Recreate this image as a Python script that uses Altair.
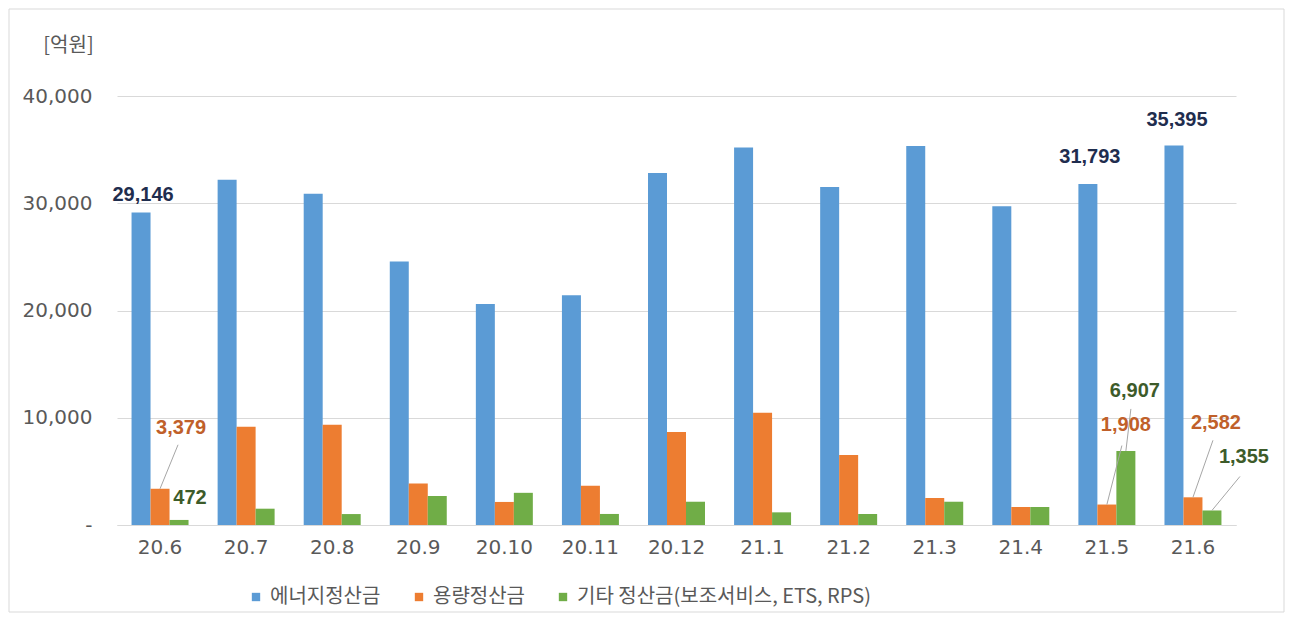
import altair as alt
import pandas as pd

# ---------------- data ----------------
months = ["20.6", "20.7", "20.8", "20.9", "20.10", "20.11", "20.12",
          "21.1", "21.2", "21.3", "21.4", "21.5", "21.6"]
series_names = ["에너지정산금", "용량정산금", "기타 정산금(보조서비스, ETS, RPS)"]
energy = [29146, 32200, 30880, 24580, 20600, 21420, 32830, 35190, 31520, 35340, 29720, 31793, 35395]
capacity = [3379, 9150, 9340, 3880, 2150, 3650, 8660, 10470, 6520, 2520, 1680, 1908, 2582]
other = [472, 1520, 1020, 2700, 3000, 1030, 2170, 1180, 1025, 2170, 1680, 6907, 1355]
y_ticks = [0, 10000, 20000, 30000, 40000]

# which bars carry a value label: (month, series index)
annotated = [("20.6", 0), ("21.5", 0), ("21.6", 0),
             ("20.6", 1), ("20.6", 2),
             ("21.5", 1), ("21.5", 2),
             ("21.6", 1), ("21.6", 2)]

# ---------------- style / layout ----------------
bar_colors = ["#5B9BD5", "#ED7D31", "#70AD47"]
label_colors = ["#1F2D4E", "#C0602A", "#3D5B2A"]
W, H = 1119, 429
PAD_INNER = 0.338
Y_MAX = 40000
# label centre offset from bar-top centre in px, and leader-line end (or None)
placement = {
    ("20.6", 0): (2, -17, None),
    ("21.5", 0): (2, -27, None),
    ("21.6", 0): (3, -25, None),
    ("20.6", 1): (21, -61, (18, -44)),
    ("20.6", 2): (11, -22, None),
    ("21.5", 1): (19, -80, (15, -59)),
    ("21.5", 2): (9, -60, (5, -42)),
    ("21.6", 1): (23, -74, (20, -57)),
    ("21.6", 2): (32, -53, (28, -34)),
}

values = [energy, capacity, other]
rows = []
for k, s in enumerate(series_names):
    for i, m in enumerate(months):
        rows.append({"month": m, "series": s, "value": values[k][i]})
bars_df = pd.DataFrame(rows)

ux = 13 / W          # x units per px in the annotation layer
uy = Y_MAX / H       # y units per px
text_rows, rule_rows = [], []
for (m, k) in annotated:
    i = months.index(m)
    v = values[k][i]
    xb = i + 0.5 + (k - 1) * (1 - PAD_INNER) / 3
    dx, dy, lead = placement[(m, k)]
    text_rows.append({"xt": xb + dx * ux, "yt": v - dy * uy,
                      "label": f"{v:,}", "series": series_names[k]})
    if lead is not None:
        rule_rows.append({"xb": xb, "yb": v,
                          "xe": xb + lead[0] * ux, "ye": v - lead[1] * uy})
text_df = pd.DataFrame(text_rows)
rule_df = pd.DataFrame(rule_rows)

GRAY = "#595959"

bars = alt.Chart(bars_df).mark_bar().encode(
    x=alt.X("month:N", sort=months,
            scale=alt.Scale(paddingInner=PAD_INNER, paddingOuter=PAD_INNER / 2),
            axis=alt.Axis(title=None, labelAngle=0, ticks=False, domain=True,
                          domainColor="#D9D9D9", labelPadding=12, labelFontSize=20,
                          labelFont="DejaVu Sans", labelColor=GRAY, grid=False)),
    xOffset=alt.XOffset("series:N", sort=series_names,
                        scale=alt.Scale(paddingInner=0, paddingOuter=0)),
    y=alt.Y("value:Q", scale=alt.Scale(domain=[0, Y_MAX], nice=False),
            axis=alt.Axis(values=y_ticks,
                          labelExpr="datum.value == 0 ? '-' : format(datum.value, ',')",
                          title="[억원]", titleAngle=0, titleX=-49, titleY=-51,
                          titleAlign="center", titleBaseline="middle",
                          titleFont="Noto Sans CJK KR", titleFontSize=20,
                          titleFontWeight="normal", titleColor=GRAY,
                          domain=False, ticks=False, labelPadding=25,
                          labelFontSize=20, labelFont="DejaVu Sans", labelColor=GRAY,
                          grid=True, gridColor="#D9D9D9", gridWidth=1)),
    color=alt.Color("series:N", sort=series_names,
                    scale=alt.Scale(domain=series_names, range=bar_colors),
                    legend=alt.Legend(title=None, orient="none", legendX=129, legendY=491,
                                      direction="horizontal", symbolType="square",
                                      symbolSize=70, symbolStrokeWidth=0,
                                      labelFont="Noto Sans CJK KR", labelFontSize=20,
                                      labelColor=GRAY, columnPadding=28, labelOffset=4,
                                      padding=0, labelLimit=800)),
)

xq = alt.Scale(domain=[0, 13], nice=False, zero=False)
yq = alt.Scale(domain=[0, Y_MAX], nice=False)

leaders = alt.Chart(rule_df).mark_rule(color="#A6A6A6", strokeWidth=1).encode(
    x=alt.X("xb:Q", scale=xq, axis=None),
    x2="xe:Q",
    y=alt.Y("yb:Q", scale=yq, axis=None),
    y2="ye:Q",
)

labels = alt.Chart(text_df).mark_text(font="Liberation Sans", fontWeight="bold",
                                      fontSize=20, align="center", baseline="middle").encode(
    x=alt.X("xt:Q", scale=xq, axis=None),
    y=alt.Y("yt:Q", scale=yq, axis=None),
    text="label:N",
    color=alt.Color("series:N", scale=alt.Scale(domain=series_names, range=label_colors),
                    legend=None),
)

frame = alt.Chart(alt.Data(values=[{}])).mark_rect(
    fill="transparent", stroke="#D9D9D9", strokeWidth=1).encode(
    x=alt.value(-108), x2=alt.value(1167), y=alt.value(-87), y2=alt.value(516))

chart = alt.layer(frame, bars, leaders, labels).resolve_scale(
    x="independent", y="independent", color="independent"
).resolve_axis(
    x="independent", y="independent"
).properties(
    width=W, height=H,
    padding={"left": 109, "top": 88, "right": 51, "bottom": 89},
    autosize=alt.AutoSizeParams(type="none"),
    background="white",
).configure_view(stroke=None)

chart.save("out.html", embed_options={"renderer": "svg", "actions": False})
